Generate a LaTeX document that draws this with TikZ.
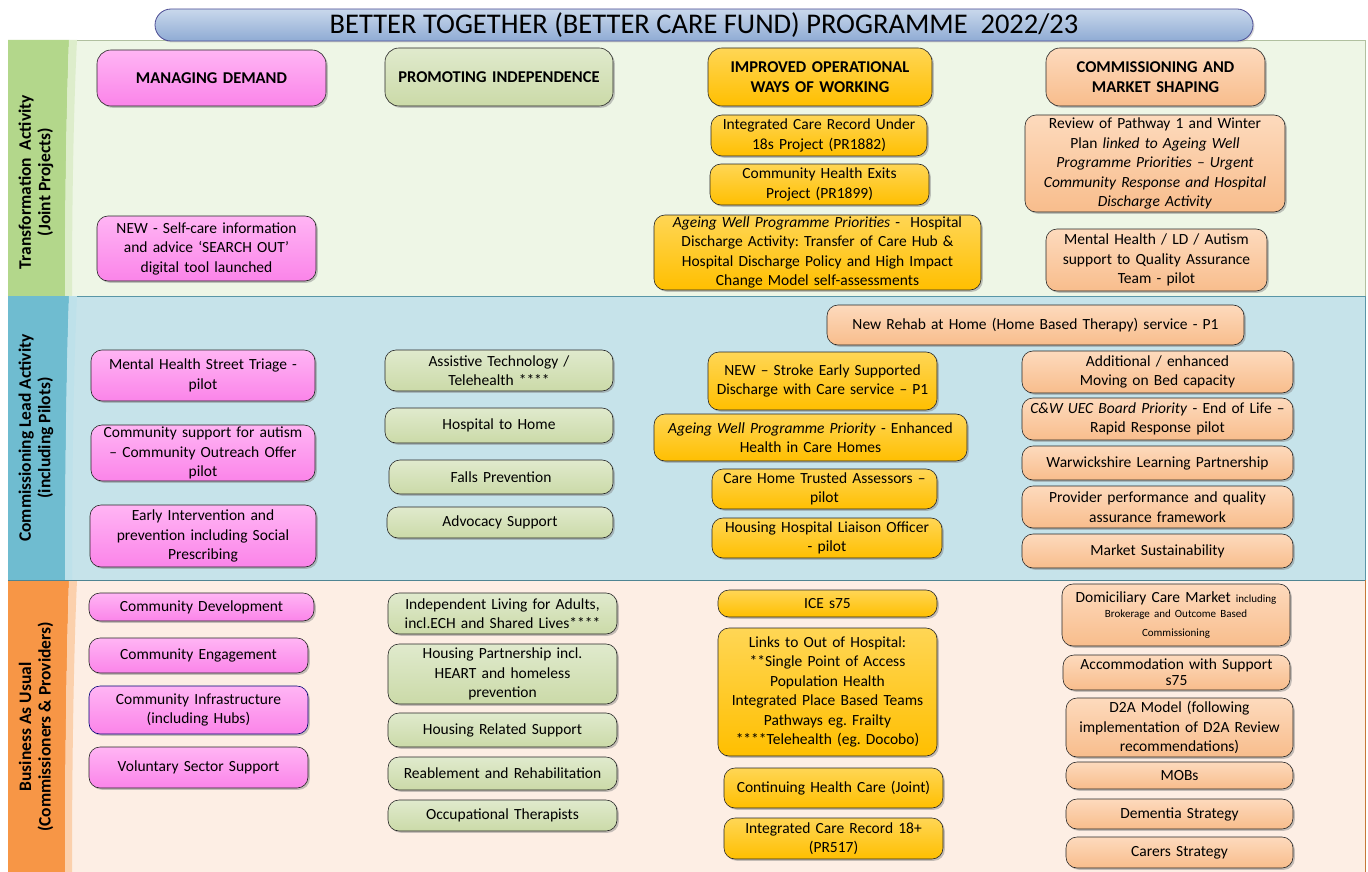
\documentclass[tikz,border=0pt]{standalone}
\usepackage{fontspec}
\setmainfont{Carlito}
\usetikzlibrary{shadows}
\frenchspacing
\definecolor{pinkT}{HTML}{FFB5F4}
\definecolor{pinkB}{HTML}{FB84E9}
\definecolor{greenT}{HTML}{E0EACD}
\definecolor{greenB}{HTML}{CBDAA8}
\definecolor{yellT}{HTML}{FFD655}
\definecolor{yellB}{HTML}{FFBF00}
\definecolor{peachT}{HTML}{FDDABD}
\definecolor{peachB}{HTML}{F8BD8C}
\definecolor{bandA}{HTML}{EEF6E6}
\definecolor{bandB}{HTML}{C6E3EA}
\definecolor{bandC}{HTML}{FDEEE4}
\definecolor{stripA}{HTML}{B3D78B}
\definecolor{stripB}{HTML}{6FBCD0}
\definecolor{stripC}{HTML}{F79646}
\definecolor{titleT}{HTML}{C9D8EC}
\definecolor{titleB}{HTML}{8FABD4}
\newcommand{\bx}[7]{%
  \pgfmathsetmacro{\bxw}{#4-#2}%
  \pgfmathsetmacro{\bxh}{#5-#3}%
  \pgfmathsetmacro{\bxcx}{(#2+#4)/2}%
  \pgfmathsetmacro{\bxcy}{-(#3+#5)/2}%
  \pgfmathsetmacro{\bxtw}{#4-#2-6}%
  \node[box,#6,minimum width=\bxw pt,minimum height=\bxh pt,text width=\bxtw pt] (#1) at (\bxcx,\bxcy) {#7};}
\begin{document}
\begin{tikzpicture}[x=1pt,y=1pt,
  box/.style={rounded corners=11pt, draw=black!85, line width=0.6pt, align=center,
    inner xsep=3pt, inner ysep=0.5pt, font=\frenchspacing\fontsize{15.5}{19.5}\selectfont,
    drop shadow={shadow xshift=1.8pt,shadow yshift=-1.8pt,opacity=0.45}},
  hdr/.style={rounded corners=14pt, font=\bfseries\fontsize{16.5}{20}\selectfont},
  pinkb/.style={top color=pinkT,bottom color=pinkB},
  greenb/.style={top color=greenT,bottom color=greenB},
  yellb/.style={top color=yellT,bottom color=yellB},
  peachb/.style={top color=peachT,bottom color=peachB},
  bandlabel/.style={rotate=90, align=center, font=\bfseries\fontsize{17.5}{19.5}\selectfont}]
\useasboundingbox (0,0) rectangle (1368,-872);
\fill[white] (0,0) rectangle (1368,-872);
% bands
\fill[bandA] (8,-40) rectangle (1365,-296);
\fill[bandB] (8,-296) rectangle (1365,-580);
\fill[bandC] (8,-580) rectangle (1365,-872);
\draw[stripA!70!black!60, line width=0.6pt] (8,-40) rectangle (1365,-296);
\draw[stripB!80!black, line width=0.6pt] (8,-296) rectangle (1365,-580);
\draw[stripC!80!black, line width=0.6pt] (1365,-580) -- (1365,-872);
% strips
\fill[stripA] (8,-40) -- (69,-40) .. controls (66,-120) and (65,-220) .. (65,-296) -- (8,-296) -- cycle;
\fill[stripA!45!white] (69,-40) .. controls (66,-120) and (65,-220) .. (65,-296) -- (72,-296) .. controls (72,-220) and (73,-120) .. (77,-40) -- cycle;
\fill[stripB] (8,-296) -- (69,-296) .. controls (66,-380) and (65,-500) .. (65,-580) -- (8,-580) -- cycle;
\fill[stripB!45!white] (69,-296) .. controls (66,-380) and (65,-500) .. (65,-580) -- (72,-580) .. controls (72,-500) and (73,-380) .. (77,-296) -- cycle;
\fill[stripC] (8,-580) -- (69,-580) .. controls (66,-670) and (65,-790) .. (65,-872) -- (8,-872) -- cycle;
\fill[stripC!45!white] (69,-580) .. controls (66,-670) and (65,-790) .. (65,-872) -- (72,-872) .. controls (72,-790) and (73,-670) .. (77,-580) -- cycle;
\draw[stripB!70!black, line width=1pt] (8,-580) -- (1365,-580);
\node[bandlabel] (lab1) at (36,-182) {Transformation\ \ Activity\\(Joint Projects)};
\node[bandlabel] (lab2) at (36,-438) {Commissioning Lead Activity\\(including Pilots)};
\node[bandlabel] (lab3) at (36,-727) {Business As Usual\\(Commissioners \& Providers)};
% title
\node[rounded corners=16pt, draw=black!60!blue!70, line width=0.8pt, top color=titleT, bottom color=titleB,
  minimum width=1098pt, minimum height=32pt, inner sep=0pt, font=\fontsize{28.5}{30}\selectfont,
  drop shadow={shadow xshift=1.5pt,shadow yshift=-1.5pt,opacity=0.3}] (ttl) at (704,-25)
  {BETTER TOGETHER (BETTER CARE FUND) PROGRAMME\ \ 2022/23};
% headers
\bx{md}{97}{50}{326}{106}{pinkb,hdr}{MANAGING DEMAND}
\bx{pi}{385}{48}{613}{106}{greenb,hdr}{PROMOTING INDEPENDENCE}
\bx{io}{708}{48}{932}{106}{yellb,hdr}{IMPROVED OPERATIONAL\\WAYS OF WORKING}
\bx{cm}{1046}{48}{1265}{106}{peachb,hdr}{COMMISSIONING AND\\MARKET SHAPING}
% band 1
\bx{t1}{711}{115}{927}{156}{yellb}{Integrated Care Record Under\\18s Project (PR1882)}
\bx{t2}{710}{164}{929}{205}{yellb}{Community Health Exits\\Project (PR1899)}
\bx{t3}{654}{215}{981}{290}{yellb}{\textit{Ageing Well Programme Priorities} -\ \ Hospital\\Discharge Activity: Transfer of Care Hub \&\\Hospital Discharge Policy and High Impact\\Change Model self-assessments}
\bx{t4}{1025}{115}{1285}{212}{peachb}{Review of Pathway 1 and Winter\\Plan \textit{linked to Ageing Well}\\\textit{Programme Priorities – Urgent}\\\textit{Community Response and Hospital}\\\textit{Discharge Activity}}
\bx{t5}{1046}{229}{1267}{291}{peachb}{Mental Health / LD / Autism\\support to Quality Assurance\\Team - pilot}
\bx{t6}{97}{216}{316}{281}{pinkb}{NEW - Self-care information\\and advice ‘SEARCH OUT’\\digital tool launched}
% band 2
\bx{c1}{827}{305}{1244}{345}{peachb}{New Rehab at Home (Home Based Therapy) service - P1}
\bx{c2}{708}{352}{937}{410}{yellb}{NEW – Stroke Early Supported\\Discharge with Care service – P1}
\bx{c3}{654}{414}{967}{461}{yellb}{\textit{Ageing Well Programme Priority} - Enhanced\\Health in Care Homes}
\bx{c4}{712}{469}{937}{509}{yellb}{Care Home Trusted Assessors –\\pilot}
\bx{c5}{712}{518}{942}{558}{yellb}{Housing Hospital Liaison Officer\\- pilot}
\bx{c6}{1022}{351}{1293}{393}{peachb}{Additional / enhanced\\Moving on Bed capacity}
\bx{c7}{1022}{398}{1293}{440}{peachb}{\textit{C\&W UEC Board Priority} - End of Life –\\Rapid Response pilot}
\bx{c8}{1022}{446}{1293}{480}{peachb}{Warwickshire Learning Partnership}
\bx{c9}{1022}{486}{1293}{528}{peachb}{Provider performance and quality\\assurance framework}
\bx{c10}{1022}{534}{1293}{568}{peachb}{Market Sustainability}
\bx{c11}{91}{350}{315}{401}{pinkb}{Mental Health Street Triage -\\pilot}
\bx{c12}{91}{425}{315}{481}{pinkb}{Community support for autism\\– Community Outreach Offer\\pilot}
\bx{c13}{90}{505}{316}{567}{pinkb}{Early Intervention and\\prevention including Social\\Prescribing}
\bx{c14}{385}{350}{613}{391}{greenb}{Assistive Technology /\\Telehealth ****}
\bx{c15}{385}{408}{613}{443}{greenb}{Hospital to Home}
\bx{c16}{389}{460}{613}{494}{greenb}{Falls Prevention}
\bx{c17}{387}{507}{613}{538}{greenb}{Advocacy Support}
% band 3
\bx{b1}{89}{593}{314}{621}{pinkb}{Community Development}
\bx{b2}{89}{638}{308}{673}{pinkb}{Community Engagement}
\bx{b3}{89}{686}{308}{734}{pinkb,draw=blue!45!black}{Community Infrastructure\\(including Hubs)}
\bx{b4}{89}{747}{308}{788}{pinkb}{Voluntary Sector Support}
\bx{b5}{388}{593}{617}{634}{greenb}{Independent Living for Adults,\\incl.ECH and Shared Lives****}
\bx{b6}{388}{644}{617}{704}{greenb}{Housing Partnership incl.\\HEART and homeless\\prevention}
\bx{b7}{388}{713}{617}{747}{greenb}{Housing Related Support}
\bx{b8}{388}{757}{617}{790}{greenb}{Reablement and Rehabilitation}
\bx{b9}{388}{800}{617}{831}{greenb}{Occupational Therapists}
\bx{b10}{718}{590}{937}{617}{yellb}{ICE s75}
\bx{b11}{718}{628}{937}{756}{yellb}{Links to Out of Hospital:\\{}**Single Point of Access\\Population Health\\Integrated Place Based Teams\\Pathways eg. Frailty\\{}****Telehealth (eg. Docobo)}
\bx{b12}{724}{768}{943}{808}{yellb}{Continuing Health Care (Joint)}
\bx{b13}{724}{818}{943}{859}{yellb}{Integrated Care Record 18+\\(PR517)}
\bx{b14}{1062}{584}{1290}{646}{peachb}{Domiciliary Care Market {\fontsize{11}{13}\selectfont\spaceskip=0pt including}\\\fontsize{11}{15}\selectfont\spaceskip=0pt Brokerage and Outcome Based\\Commissioning}
\bx{b15}{1063}{655}{1290}{690}{peachb,font=\fontsize{15.5}{16}\selectfont}{Accommodation with Support\\s75}
\bx{b16}{1066}{698}{1293}{757}{peachb}{D2A Model (following\\implementation of D2A Review\\recommendations)}
\bx{b17}{1066}{762}{1293}{789}{peachb}{MOBs}
\bx{b18}{1066}{799}{1293}{829}{peachb}{Dementia Strategy}
\bx{b19}{1066}{837}{1293}{868}{peachb}{Carers Strategy}
\end{tikzpicture}
\end{document}
